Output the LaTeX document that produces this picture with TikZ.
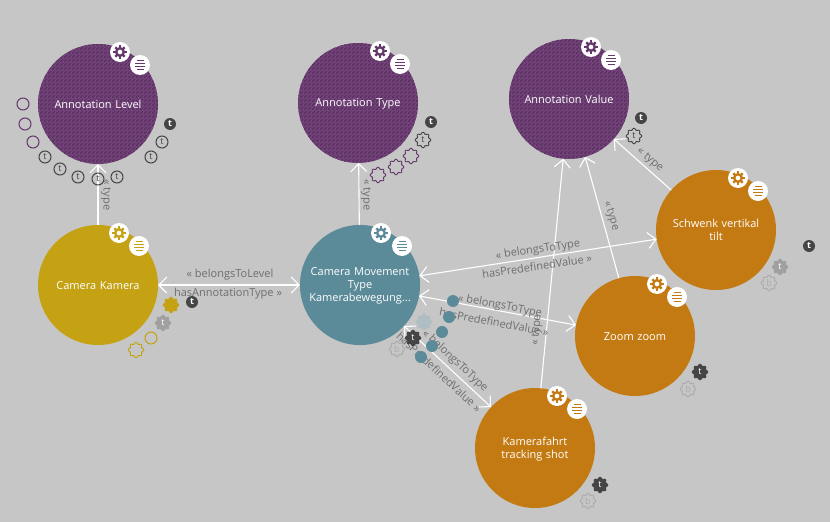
\documentclass[tikz,border=0pt]{standalone}
\usepackage{fontspec}
\setmainfont{Open Sans}
\usetikzlibrary{arrows.meta,patterns}
\definecolor{bgc}{HTML}{C6C6C6}
\definecolor{purp}{HTML}{71437A}
\definecolor{purpd}{HTML}{5A2F5E}
\definecolor{purpm}{HTML}{64386A}
\definecolor{gold}{HTML}{C4A213}
\definecolor{teal2}{HTML}{5B8A99}
\definecolor{tealb}{HTML}{AEBEC3}
\definecolor{orng}{HTML}{C47A12}
\definecolor{dark}{HTML}{454545}
\definecolor{lgray}{HTML}{ABABAB}
\definecolor{mgray}{HTML}{A0A0A0}
\definecolor{lbl}{HTML}{6E6E6E}
\pgfdeclarepatternformonly{checker}{\pgfqpoint{0pt}{0pt}}{\pgfqpoint{4pt}{4pt}}{\pgfqpoint{4pt}{4pt}}{%
  \pgfpathrectangle{\pgfqpoint{0pt}{0pt}}{\pgfqpoint{2pt}{2pt}}%
  \pgfpathrectangle{\pgfqpoint{2pt}{2pt}}{\pgfqpoint{2pt}{2pt}}%
  \pgfusepath{fill}}
\tikzset{
  ball/.style={circle,minimum size=120pt,inner sep=0pt,outer sep=0pt,text=white,align=center,
    font=\fontsize{11}{13}\selectfont,text width=114pt,
    execute at begin node={\rule{0pt}{10.5pt}},execute at end node={\rule[-2pt]{0pt}{2pt}}},
  purball/.style={ball,preaction={fill=purp},pattern=checker,pattern color=purpd},
  goldball/.style={ball,fill=gold},
  tealball/.style={ball,fill=teal2},
  orball/.style={ball,fill=orng},
  conn/.style={white,line width=1.1pt},
  arr/.style={conn,-{Straight Barb[length=8pt,width=16pt,line width=1.1pt]}},
  darr/.style={conn,{Straight Barb[length=8pt,width=16pt,line width=1.1pt]}-{Straight Barb[length=8pt,width=16pt,line width=1.1pt]}},
  lab/.style={text=lbl,inner sep=0pt,font=\fontsize{11}{12}\selectfont},
  disc/.style={circle,fill=white,minimum size=20pt,inner sep=0pt},
  tl/.style={inner sep=0pt,font=\fontsize{9}{9}\selectfont\bfseries},
  ring/.style={circle,minimum size=12pt,inner sep=0pt,line width=1pt},
  dot/.style={circle,minimum size=12pt,inner sep=0pt,fill=teal2},
}
% gear: name, position, colour
\newcommand{\Gear}[3]{%
  \node[disc] (#1) at (#2) {};
  \draw[#3,line width=2.4pt] (#1) circle[radius=3.8pt];
  \foreach \a in {0,45,...,315}{\draw[#3,line width=2.4pt] (#1)++(\a:4pt) -- ++(\a:2.6pt);}
}
% menu: name, position, colour
\newcommand{\Menu}[3]{%
  \node[disc] (#1) at (#2) {};
  \draw[#3,line width=1pt] ([shift={(-3.5pt,-4.5pt)}]#1.center) -- ++(7pt,0pt)
    ([shift={(-5pt,-1.5pt)}]#1.center) -- ++(10pt,0pt)
    ([shift={(-5pt,1.5pt)}]#1.center) -- ++(10pt,0pt)
    ([shift={(-3.5pt,4.5pt)}]#1.center) -- ++(7pt,0pt);
}
% scalloped badge: name, position, outline, fill, text colour, text
\newcommand{\Sc}[6]{%
  \begin{scope}[shift={(#2)}]
  \draw[#3,fill=#4,line width=.9pt] plot[domain=0:352.5,samples=48,smooth cycle] ({(6.9+0.9*cos(8*\x))*cos(\x)},{(6.9+0.9*cos(8*\x))*sin(\x)});
  \node[tl,text=#5,font=\fontsize{9}{9}\selectfont] (#1) at (0,0) {#6};
  \end{scope}
}
% round badge
\newcommand{\Tc}[2]{\node[ring,draw=dark,tl,text=dark,font=\fontsize{9}{9}\selectfont] (#1) at (#2) {t};}
\newcommand{\Tf}[2]{\node[ring,fill=dark,text=white,tl] (#1) at (#2) {t};}
\begin{document}
\begin{tikzpicture}[x=1pt,y=-1pt]
\useasboundingbox (0,0) rectangle (830,522);
\fill[bgc] (0,0) rectangle (830,522);

\node[purball] (lev) at (98,104) {Annotation Level};
\node[purball] (typ) at (358,103) {Annotation Type};
\node[purball] (val) at (569,99) {Annotation Value};
\node[goldball] (cam) at (98,285) {Camera Kamera};
\node[tealball] (mov) at (360,285) {Camera Movement\\Type\\Kamerabewegung...};
\node[orball] (sch) at (716,230) {Schwenk vertikal\\tilt};
\node[orball] (zoo) at (635,336) {Zoom zoom};
\node[orball] (kam) at (535,448) {Kamerafahrt\\tracking shot};

\draw[arr] (cam) -- (lev);
\draw[arr] (mov) -- (typ);
\draw[arr] (sch) -- (val);
\draw[arr] (zoo) -- (val);
\draw[arr] (kam) -- (val);
\draw[darr] (cam) -- (mov);
\draw[darr] (mov) -- (sch);
\draw[darr] (mov) -- (zoo);
\draw[darr] (mov) -- (kam);

\node[lab,rotate=-90] (l1) at (106,195) {« type};
\node[lab,rotate=-90] (l2) at (366,195) {« type};
\node[lab,rotate=-41] (l3) at (650,160) {« type};
\node[lab,rotate=-73] (l4) at (611,216) {« type};
\node[lab,rotate=85] (l5) at (537,330) {« type};
\node[lab] (l6) at (230,275) {« belongsToLevel};
\node[lab] (l7) at (228,294) {hasAnnotationType »};
\node[lab,rotate=8.5] (l8) at (538,250) {« belongsToType};
\node[lab,rotate=8.5] (l9) at (537,266) {hasPredefinedValue »};
\node[lab,rotate=-10.5] (l10) at (500,306) {« belongsToType};
\node[lab,rotate=-10.5] (l11) at (494,322) {hasPredefinedValue »};
\node[lab,rotate=-43] (l12) at (455,361) {« belongsToType};
\node[lab,rotate=-43] (l13) at (439,372) {hasPredefinedValue »};

\Gear{g1}{120,52}{purpm}\Menu{m1}{140,65}{purpm}
\Gear{g2}{380,51}{purpm}\Menu{m2}{400,64}{purpm}
\Gear{g3}{591,47}{purpm}\Menu{m3}{611,60}{purpm}
\Gear{g4}{119,233}{gold}\Menu{m4}{139,246}{gold}
\Gear{g5}{381,233}{teal2}\Menu{m5}{402,246}{teal2}
\Gear{g6}{738,178}{orng}\Menu{m6}{758,191}{orng}
\Gear{g7}{657,284}{orng}\Menu{m7}{677,297}{orng}
\Gear{g8}{557,396}{orng}\Menu{m8}{577,409}{orng}

% Annotation Level
\node[ring,draw=purpm] (a1) at (23,104) {};
\node[ring,draw=purpm] (a2) at (25,124) {};
\node[ring,draw=purpm] (a3) at (33,142) {};
\Tc{a4}{45,157}\Tc{a5}{60,169}\Tc{a6}{78,177}\Tc{a7}{98,179}\Tc{a8}{117,177}
\Tc{a9}{151,157}\Tc{a10}{162,142}\Tf{a11}{170,124}
% Annotation Type
\Tf{b1}{431,122}
\Sc{b2}{423,140}{dark}{bgc}{dark}{t}
\Sc{b3}{411,156}{purpm}{bgc}{dark}{}
\Sc{b4}{396,167}{purpm}{bgc}{dark}{}
\Sc{b5}{378,175}{purpm}{bgc}{dark}{}
% Annotation Value
\Tf{c1}{641,118}
\Sc{c2}{634,136}{dark}{bgc}{dark}{t}
% Schwenk
\Tf{d1}{809,246}
\Sc{d2}{780,267}{mgray}{mgray}{white}{t}
\Sc{d3}{769,283}{lgray}{bgc}{lgray}{b}
% Zoom
\Sc{e1}{700,372}{dark}{dark}{white}{t}
\Sc{e2}{688,389}{lgray}{bgc}{lgray}{b}
% Kamerafahrt
\Sc{f1}{600,485}{dark}{dark}{white}{t}
\Sc{f2}{588,501}{lgray}{bgc}{lgray}{b}
% Camera
\Sc{h1}{171,305}{gold}{gold}{white}{}
\Tf{h2}{192,302}
\Sc{h3}{163,323}{mgray}{mgray}{white}{t}
\node[ring,draw=gold] (h4) at (151,338) {};
\Sc{h5}{136,350}{gold}{bgc}{gold}{}
% Movement
\Sc{i1}{424,322}{tealb}{tealb}{white}{}
\Sc{i3}{397,349}{lgray}{bgc}{lgray}{b}
\Sc{i2}{413,338}{dark}{dark}{white}{t}
\node[dot] (i4) at (453,301) {};
\node[dot] (i5) at (449,317) {};
\node[dot] (i6) at (442,332) {};
\node[dot] (i7) at (432,346) {};
\node[dot] (i8) at (421,357) {};
\end{tikzpicture}
\end{document}
